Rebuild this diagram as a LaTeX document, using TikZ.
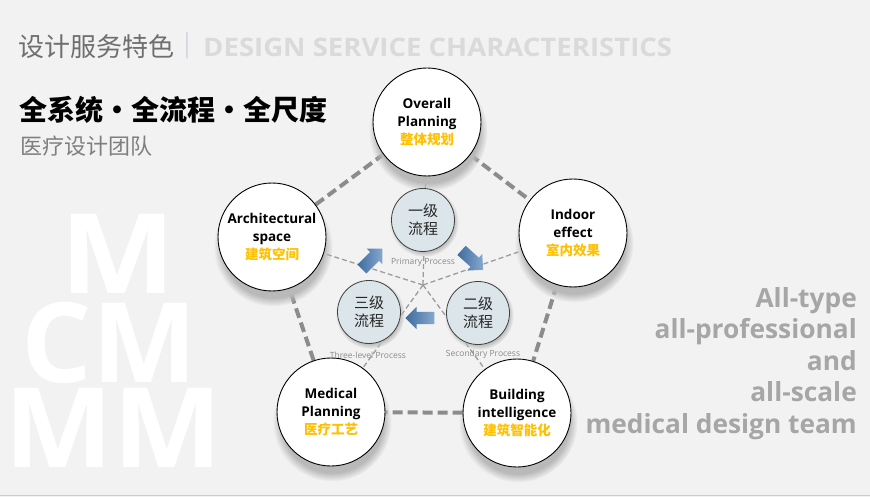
\documentclass[tikz,border=0pt]{standalone}
\usepackage{fontspec}
\usepackage{graphicx}
\setmainfont{Open Sans}
\newfontfamily\cjk{Noto Sans CJK SC}
\usetikzlibrary{shapes.arrows,shadows,backgrounds}
\definecolor{bgc}{HTML}{F2F2F2}
\definecolor{titlec}{HTML}{6F6F6F}
\definecolor{lightc}{HTML}{DADADA}
\definecolor{barc}{HTML}{D3D8E0}
\definecolor{subc}{HTML}{7F7F7F}
\definecolor{rc}{HTML}{A6A6A6}
\definecolor{gold}{HTML}{FFC000}
\definecolor{smallfill}{HTML}{DCE6EA}
\definecolor{smallline}{HTML}{404040}
\definecolor{pdc}{HTML}{8C8C8C}
\definecolor{tdc}{HTML}{9C9C9C}
\definecolor{arrowd}{HTML}{3E6C9F}
\definecolor{arrowl}{HTML}{86A8CE}
\definecolor{shc}{HTML}{B9B9B9}
\definecolor{plc}{HTML}{8A8A8A}
\begin{document}
\begin{tikzpicture}[x=1pt,y=-1pt,
  big/.style={circle, draw=black, line width=0.9pt, fill=white, minimum size=108pt,
    inner sep=0pt, align=center, font=\bfseries\fontsize{13.5}{18}\selectfont,
    circular drop shadow={shadow xshift=1pt, shadow yshift=-9pt, fill=shc, opacity=1}},
  small/.style={circle, draw=smallline, line width=0.8pt, fill=smallfill, minimum size=63pt,
    inner sep=0pt, align=center, text=black!85, font=\cjk\fontsize{15}{18}\selectfont,
    circular drop shadow={shadow xshift=1pt, shadow yshift=-2pt, fill=black!25, opacity=1}},
  plabel/.style={inner sep=0pt, text=plc, font=\fontsize{8.5}{10}\selectfont},
  barrow/.style={single arrow, minimum height=29pt, inner xsep=0pt, inner ysep=6pt,
    single arrow head extend=5pt, left color=arrowd, right color=arrowl, draw=none},
  pdash/.style={draw=pdc, line width=4pt, dash pattern=on 10pt off 5pt},
  tdash/.style={draw=tdc, line width=1.3pt, dash pattern=on 5pt off 3pt},
  mc/.style={inner sep=0pt, text=white, font=\bfseries\fontsize{111}{111}\selectfont, anchor=base}
]
\useasboundingbox (0,0) rectangle (870,497);
\begin{scope}[on background layer]
  \fill[bgc] (0,0) rectangle (870,497);
  \draw[draw=black!20, line width=1.5pt] (0,495.5) -- (870,495.5);
\end{scope}

% watermark letters
\node[mc] (m1) at (118,293) {\scalebox{1.1}[1]{M}};
\node[mc] (m2) at (109,382) {CM};
\node[mc] (m3) at (113,467) {\scalebox{1.04}[1]{MM}};

% titles
\node[anchor=west, inner sep=0pt, text=titlec, font=\cjk\fontsize{26}{26}\selectfont] (t1) at (18,47) {设计服务特色};
\node[inner sep=0pt, text=barc, font=\fontsize{26}{26}\selectfont] (bar) at (187,46) {|};
\node[anchor=west, inner sep=0pt, text=lightc, font=\bfseries\fontsize{25.5}{25.5}\selectfont] (t2) at (203,47) {\scalebox{1.08}[1]{DESIGN SERVICE CHARACTERISTICS}};
\node[anchor=west, inner sep=0pt, font=\cjk\bfseries\fontsize{28}{28}\selectfont] (h1) at (19,110) {全系统•全流程•全尺度};
\node[anchor=west, inner sep=0pt, text=subc, font=\cjk\fontsize{22}{22}\selectfont] (h2) at (20,146) {医疗设计团队};

% right text
\node[anchor=north east, align=right, inner sep=0pt, text=rc, font=\bfseries\fontsize{26.3}{31.5}\selectfont] (rt) at (857,287)
  {All-type\\all-professional\\and\\all-scale\\medical design team};

% big circles
\node[big] (op) at (427,122) {Overall\\Planning\\{\cjk\color{gold}整体规划}};
\node[big] (ar) at (272,237) {Architectural\\space\\{\cjk\color{gold}建筑空间}};
\node[big] (ie) at (573,233) {Indoor\\effect\\{\cjk\color{gold}室内效果}};
\node[big] (mp) at (331,412) {Medical\\Planning\\{\cjk\color{gold}医疗工艺}};
\node[big] (bi) at (517,413) {Building\\intelligence\\{\cjk\color{gold}建筑智能化}};

% small circles
\coordinate (c) at (423,285);
\node[small] (p1) at (423,220) {一级\\流程};
\node[small] (p2) at (478,313) {二级\\流程};
\node[small] (p3) at (369,312) {三级\\流程};

% labels
\node[plabel] (l1) at (423,262) {Primary Process};
\node[plabel] (l2) at (483,354) {Secondary Process};
\node[plabel] (l3) at (368,355) {Three-level Process};

% arrows
\node[barrow, rotate=45] (a1) at (370,261) {};
\node[barrow, rotate=-42] (a2) at (470,258) {};
\node[barrow, rotate=180] (a3) at (423,318) {};

% connectors
\begin{scope}[on background layer]
  \draw[pdash] (op) -- (ie);
  \draw[pdash] (ie) -- (bi);
  \draw[pdash] (bi) -- (mp);
  \draw[pdash] (mp) -- (ar);
  \draw[pdash] (ar) -- (op);
  \draw[tdash] (c) -- (op);
  \draw[tdash] (c) -- (ar);
  \draw[tdash] (c) -- (ie);
  \draw[tdash] (c) -- (mp);
  \draw[tdash] (c) -- (bi);
\end{scope}
\end{tikzpicture}
\end{document}
